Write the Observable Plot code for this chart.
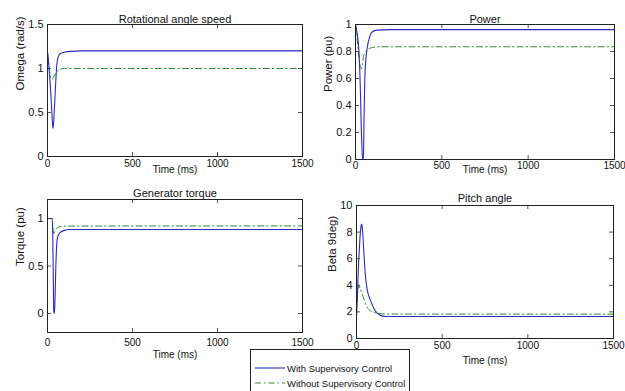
<!DOCTYPE html>
<html>
<head>
<meta charset="utf-8">
<script src="https://cdn.jsdelivr.net/npm/d3@7"></script>
<script src="https://cdn.jsdelivr.net/npm/@observablehq/plot@0.6"></script>
<style>
  body { margin: 0; background: #fff; }
  #chart { position: relative; width: 625px; height: 391px; overflow: hidden; background: #fff;
    font-family: 'Liberation Sans', Arial, sans-serif; color: #111; }
  .panel { position: absolute; }
  #legend { position: absolute; left: 250px; top: 349px; width: 158px; height: 52px;
    border: 1px solid #222; background: #fff; font-size: 9.5px; }
  #legend .row { position: absolute; left: 4px; height: 14px; display: flex; align-items: center; white-space: nowrap; }
  #legend svg { margin-right: 2px; }
</style>
</head>
<body>
<div id="chart"></div>
<script>
// ---- data ----
const seriesNames = ["With Supervisory Control", "Without Supervisory Control"];
const xTicks = [0, 500, 1000, 1500];

const omegaWithT   = [0, 5, 10, 15, 20, 25, 30, 33, 37, 42, 47, 52, 57, 65, 76, 100, 135, 200, 1500];
const omegaWith    = [1.19, 1.1, 0.98, 0.85, 0.7, 0.52, 0.36, 0.32, 0.42, 0.6, 0.79, 0.97, 1.08, 1.14, 1.17, 1.185, 1.195, 1.2, 1.2];
const omegaWithoutT = [0, 5, 10, 15, 22, 28, 35, 45, 60, 80, 100, 1500];
const omegaWithout  = [1.17, 1.1, 1.0, 0.93, 0.88, 0.88, 0.9, 0.94, 0.975, 0.995, 1.0, 1.0];
const omegaTicks = [0, 0.5, 1, 1.5];

const powerWithT   = [0, 10, 19, 25, 29, 33, 37, 41, 46, 50, 54, 60, 67, 80, 96, 125, 200, 1500];
const powerWith    = [1.0, 0.93, 0.82, 0.65, 0.48, 0.25, 0.1, 0.0, 0.02, 0.35, 0.6, 0.74, 0.82, 0.9, 0.945, 0.958, 0.962, 0.962];
const powerWithoutT = [0, 8, 15, 22, 30, 35, 40, 48, 60, 77, 100, 130, 1500];
const powerWithout  = [1.0, 0.92, 0.82, 0.74, 0.68, 0.67, 0.7, 0.77, 0.8, 0.82, 0.83, 0.835, 0.835];
const powerTicks = [0, 0.2, 0.4, 0.6, 0.8, 1];

const torqueWithT   = [0, 28, 31, 34, 37, 41, 45, 49, 53, 57, 65, 76, 100, 130, 1500];
const torqueWith    = [1.0, 1.0, 0.8, 0.4, 0.02, 0.0, 0.2, 0.5, 0.68, 0.78, 0.83, 0.855, 0.875, 0.885, 0.885];
const torqueWithoutT = [0, 28, 32, 36, 42, 50, 66, 90, 1500];
const torqueWithout  = [1.0, 1.0, 0.9, 0.83, 0.86, 0.89, 0.91, 0.92, 0.922];
const torqueTicks = [0, 0.5, 1];

const pitchWithT   = [0, 5, 10, 15, 20, 26, 30, 34, 39, 45, 53, 62, 72, 82, 100, 121, 145, 169, 1500];
const pitchWith    = [1.7, 3.2, 5.0, 6.3, 7.5, 8.4, 8.6, 8.3, 7.4, 6.0, 4.6, 3.7, 3.2, 2.85, 2.3, 1.9, 1.72, 1.65, 1.65];
const pitchWithoutT = [0, 5, 10, 14, 20, 33, 45, 62, 80, 101, 130, 170, 1500];
const pitchWithout  = [1.7, 3.0, 3.8, 4.0, 3.8, 3.35, 2.9, 2.35, 2.1, 1.98, 1.88, 1.84, 1.83];
const pitchTicks = [0, 2, 4, 6, 8, 10];

// ---- styles ----
const colorWith = "#2a2ac4";
const colorWithout = "#2a8a2a";
const dashWithout = "6,3,1.5,3";
const font = "'Liberation Sans', Arial, sans-serif";

function zip(t, v) { return t.map((x, i) => ({t: x, v: v[i]})); }

function panel(o) {
  const fw = o.width - o.ml - o.mr;
  const fh = o.height - o.mt - o.mb;
  const svg = Plot.plot({
    width: o.width, height: o.height,
    marginLeft: o.ml, marginRight: o.mr, marginTop: o.mt, marginBottom: o.mb,
    style: {fontFamily: font, fontSize: "11px", color: "#111", background: "transparent", overflow: "visible"},
    x: {domain: [0, 1500]},
    y: {domain: o.yDomain},
    marks: [
      Plot.axisX({ticks: xTicks, tickSize: 0, tickPadding: o.xpad, label: null, fontSize: 10, tickFormat: d => String(d)}),
      Plot.axisY({ticks: o.yTicks, tickSize: 0, tickPadding: 4, label: null, fontSize: 11, tickFormat: d => String(d)}),
      Plot.tickX(xTicks, {x: d => d, insetTop: fh - 4, stroke: "#555"}),
      Plot.tickX(xTicks, {x: d => d, insetBottom: fh - 4, stroke: "#555"}),
      Plot.tickY(o.yTicks, {y: d => d, insetRight: fw - 4, stroke: "#555"}),
      Plot.tickY(o.yTicks, {y: d => d, insetLeft: fw - 4, stroke: "#555"}),
      Plot.line(zip(o.withoutT, o.without), {x: "t", y: "v", stroke: colorWithout, strokeWidth: 1, strokeDasharray: dashWithout, curve: "monotone-x"}),
      Plot.line(zip(o.withT, o.with), {x: "t", y: "v", stroke: colorWith, strokeWidth: 1.1, curve: "monotone-x"}),
      Plot.frame({stroke: "#222"}),
      Plot.text([o.title], {frameAnchor: "top", dy: o.titleDy, fill: "#111", fontSize: 11}),
      Plot.text(["Time (ms)"], {frameAnchor: "bottom", dy: o.xlabDy, fill: "#111", fontSize: 10}),
      Plot.text([o.ylabel], {frameAnchor: "left", rotate: -90, dx: o.ylabDx, fill: "#111", fontSize: 11.5})
    ]
  });
  svg.classList.add("panel");
  svg.style.left = o.left + "px";
  svg.style.top = o.top + "px";
  return svg;
}

const chart = document.getElementById("chart");

chart.appendChild(panel({
  left: 0, top: 0, width: 320, height: 185, ml: 47, mr: 18, mt: 24, mb: 29,
  title: "Rotational angle speed", ylabel: "Omega (rad/s)",
  yDomain: [0, 1.5], yTicks: omegaTicks,
  withT: omegaWithT, with: omegaWith, withoutT: omegaWithoutT, without: omegaWithout,
  titleDy: -9, xlabDy: 16, ylabDx: -27, xpad: 3
}));

chart.appendChild(panel({
  left: 300, top: 0, width: 325, height: 185, ml: 55, mr: 11, mt: 24, mb: 26,
  title: "Power", ylabel: "Power (pu)",
  yDomain: [0, 1], yTicks: powerTicks,
  withT: powerWithT, with: powerWith, withoutT: powerWithoutT, without: powerWithout,
  titleDy: -9, xlabDy: 13, ylabDx: -27, xpad: 2
}));

chart.appendChild(panel({
  left: 0, top: 185, width: 320, height: 206, ml: 47, mr: 18, mt: 14, mb: 59,
  title: "Generator torque", ylabel: "Torque (pu)",
  yDomain: [-0.2, 1.2], yTicks: torqueTicks,
  withT: torqueWithT, with: torqueWith, withoutT: torqueWithoutT, without: torqueWithout,
  titleDy: -10, xlabDy: 25, ylabDx: -27, xpad: 6
}));

chart.appendChild(panel({
  left: 300, top: 185, width: 325, height: 206, ml: 56, mr: 12, mt: 20, mb: 53,
  title: "Pitch angle", ylabel: "Beta 9deg)",
  yDomain: [0, 10], yTicks: pitchTicks,
  withT: pitchWithT, with: pitchWith, withoutT: pitchWithoutT, without: pitchWithout,
  titleDy: -11, xlabDy: 25, ylabDx: -24, xpad: 3
}));

// ---- legend ----
const legend = document.createElement("div");
legend.id = "legend";
const styles = [{stroke: colorWith, dash: null}, {stroke: colorWithout, dash: dashWithout}];
seriesNames.forEach((name, i) => {
  const row = document.createElement("div");
  row.className = "row";
  row.style.top = (11 + i * 15) + "px";
  const dash = styles[i].dash ? ` stroke-dasharray="${styles[i].dash}"` : "";
  row.innerHTML = `<svg width="30" height="6"><line x1="0" x2="30" y1="3" y2="3" stroke="${styles[i].stroke}" stroke-width="1.1"${dash}/></svg><span>${name}</span>`;
  legend.appendChild(row);
});
chart.appendChild(legend);
</script>
</body>
</html>
